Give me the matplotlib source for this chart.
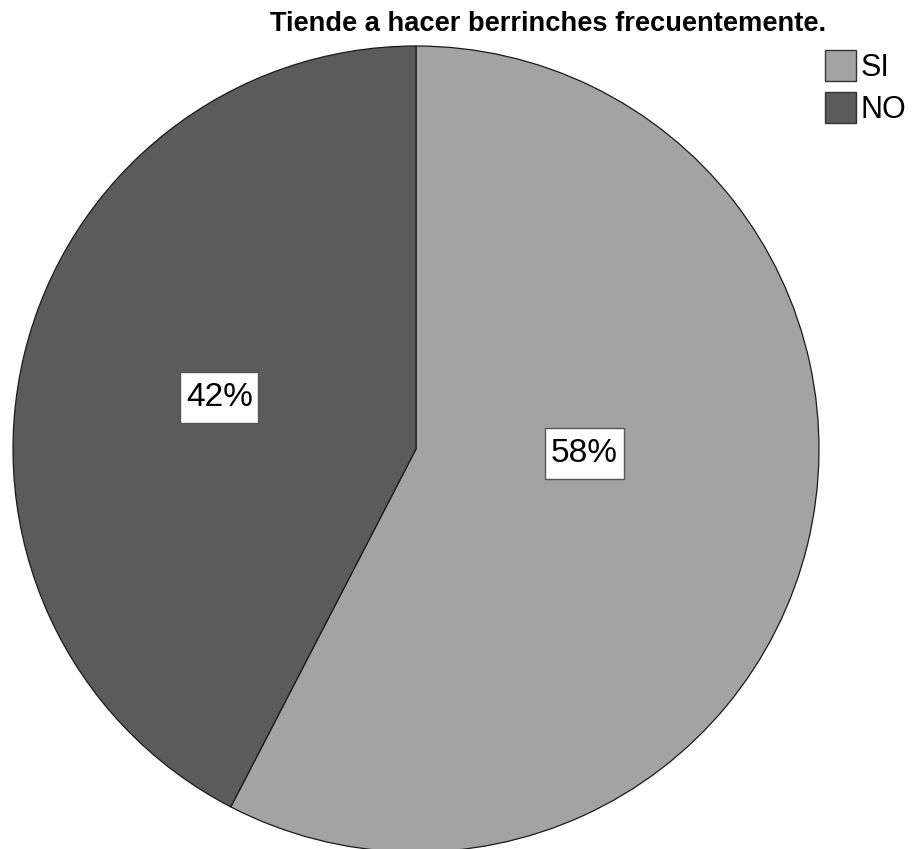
import matplotlib
matplotlib.use("Agg")
import matplotlib.pyplot as plt
from matplotlib.patches import Patch
from matplotlib.path import Path

title = "Tiende a hacer berrinches frecuentemente."
categories = ["SI", "NO"]
values = [57.6, 42.4]
pct_labels = ["58%", "42%"]
colors = ["#a3a3a3", "#5b5b5b"]

plt.rcParams['font.family'] = ['Liberation Sans', 'DejaVu Sans']


class TallBox:
    def __init__(self, padx, pady):
        self.padx, self.pady = padx, pady

    def __call__(self, x0, y0, width, height, mutation_size):
        px = self.padx * mutation_size
        py = self.pady * mutation_size
        x0, y0 = x0 - px, y0 - py
        x1, y1 = x0 + width + 2 * px, y0 + height + 2 * py
        return Path([(x0, y0), (x1, y0), (x1, y1), (x0, y1), (x0, y0)], closed=True)


W, H = 913, 849
fig = plt.figure(figsize=(W / 100, H / 100), dpi=100)
cx, cy, r = 416, 849 - 449, 403
ax = fig.add_axes([(cx - r) / W, (cy - r) / H, 2 * r / W, 2 * r / H])

wedges, _ = ax.pie(values, colors=colors, startangle=90, counterclock=False,
                   radius=1, wedgeprops=dict(edgecolor='#1a1a1a', linewidth=0.9))
for w in wedges:
    w.set_clip_on(False)
ax.set_xlim(-1, 1)
ax.set_ylim(-1, 1)
ax.set_aspect('equal')
ax.axis('off')

label_pos = [(0.418, -0.011), (-0.488, 0.128)]
for (x, y), lab in zip(label_pos, pct_labels):
    ax.text(x, y, lab, ha='center', va='center', fontsize=24,
            bbox=dict(boxstyle=TallBox(0.17, 0.29), facecolor='white',
                      edgecolor='#555555', linewidth=1.0))

fig.text(548 / W, 1 - 24 / H, title, ha='center', va='center', fontsize=19.6, fontweight='bold')

handles = [Patch(facecolor=c, edgecolor='#333333', linewidth=1.0) for c in colors]
fig.legend(handles, categories, loc='upper left', bbox_to_anchor=(825 / W, 1 - 50 / H),
           frameon=False, fontsize=22, handlelength=1.0, handleheight=1.2,
           labelspacing=0.3, handletextpad=0.17, borderpad=0, borderaxespad=0)

fig.savefig("out.png", dpi=100)
